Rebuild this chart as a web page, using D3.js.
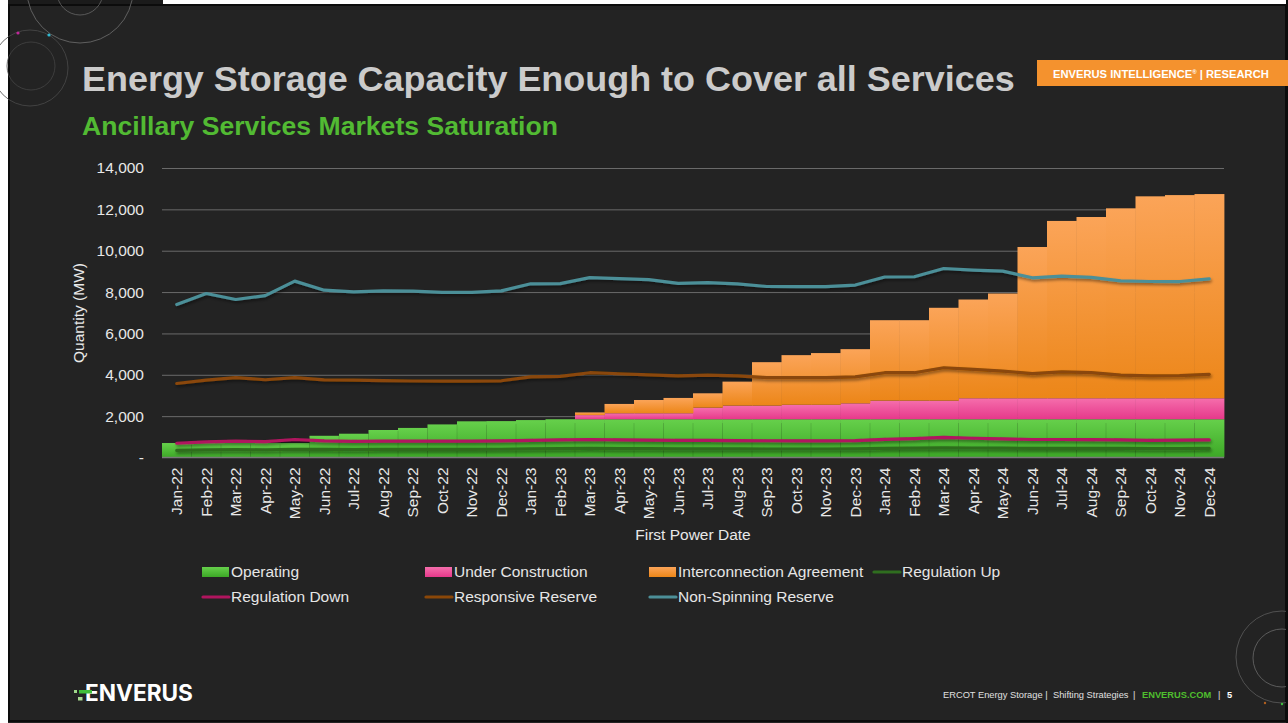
<!DOCTYPE html>
<html><head><meta charset="utf-8">
<script src="https://cdn.jsdelivr.net/npm/d3@7"></script>
<style>html,body{margin:0;padding:0;background:#fff;overflow:hidden}svg{display:block;font-family:"Liberation Sans",Arial,sans-serif}</style>
</head><body><svg id="c" width="1288" height="723"></svg>
<script>
const months = ["Jan-22","Feb-22","Mar-22","Apr-22","May-22","Jun-22","Jul-22","Aug-22","Sep-22","Oct-22","Nov-22","Dec-22",
"Jan-23","Feb-23","Mar-23","Apr-23","May-23","Jun-23","Jul-23","Aug-23","Sep-23","Oct-23","Nov-23","Dec-23",
"Jan-24","Feb-24","Mar-24","Apr-24","May-24","Jun-24","Jul-24","Aug-24","Sep-24","Oct-24","Nov-24","Dec-24"];
const operating = [700,700,700,700,700,1050,1150,1330,1430,1600,1750,1760,1810,1850,1850,1850,1850,1850,1850,1850,1850,1850,1850,1850,1850,1850,1850,1850,1850,1850,1850,1850,1850,1850,1850,1850];
const underConstruction = [0,0,0,0,0,0,0,0,0,0,0,0,0,0,200,290,290,290,560,660,660,700,700,770,900,900,900,1015,1015,1015,1015,1015,1015,1015,1015,1015];
const interconnection = [0,0,0,0,0,0,0,0,0,0,0,0,0,0,130,450,640,740,695,1160,2100,2400,2500,2620,3890,3890,4490,4775,5065,7315,8575,8765,9185,9765,9825,9875];
const regulationUp = [340,370,380,370,400,390,380,390,390,390,390,400,420,430,440,430,430,420,420,420,410,410,410,420,440,450,470,460,450,440,440,440,440,430,430,440];
const regulationDown = [690,760,790,770,870,800,780,790,790,790,790,800,830,850,870,850,840,830,830,820,810,800,800,820,880,910,970,930,900,870,870,860,850,830,840,850];
const responsiveReserve = [3580,3740,3860,3760,3860,3750,3740,3720,3700,3690,3690,3710,3900,3920,4100,4050,4000,3950,3980,3950,3860,3860,3860,3900,4100,4100,4340,4260,4180,4060,4140,4100,3985,3950,3960,4020];
const nonSpinningReserve = [7400,7930,7640,7830,8530,8090,8010,8060,8050,7990,7990,8060,8400,8410,8700,8650,8600,8420,8460,8400,8270,8260,8260,8340,8730,8740,9140,9060,9010,8690,8770,8710,8540,8510,8510,8640];
const yTicks = [0,2000,4000,6000,8000,10000,12000,14000];
const yTickLabels = ["-","2,000","4,000","6,000","8,000","10,000","12,000","14,000"];

const barSeries = [
  {key:"Operating", values:operating, top:"#66d04b", bottom:"#3ca826"},
  {key:"Under Construction", values:underConstruction, top:"#f56eac", bottom:"#e6388a"},
  {key:"Interconnection Agreement", values:interconnection, top:"#fba458", bottom:"#ec8618"}
];
const lineSeries = [
  {key:"Regulation Up", values:regulationUp, color:"#2f6d1f"},
  {key:"Regulation Down", values:regulationDown, color:"#b0155e"},
  {key:"Responsive Reserve", values:responsiveReserve, color:"#8a4708"},
  {key:"Non-Spinning Reserve", values:nonSpinningReserve, color:"#4c8f98"}
];

const svg = d3.select("#c");
const defs = svg.append("defs");
barSeries.forEach((s,i)=>{
  const g = defs.append("linearGradient").attr("id","g"+i).attr("x1",0).attr("y1",0).attr("x2",0).attr("y2",1);
  g.append("stop").attr("offset","0%").attr("stop-color",s.top);
  g.append("stop").attr("offset","100%").attr("stop-color",s.bottom);
});
const f = defs.append("filter").attr("id","sh").attr("filterUnits","userSpaceOnUse").attr("x",0).attr("y",0).attr("width",1288).attr("height",723);
f.append("feDropShadow").attr("dx",1).attr("dy",2).attr("stdDeviation",1.6).attr("flood-color","#000").attr("flood-opacity",0.45);

// slide background
svg.append("rect").attr("x",0).attr("y",0).attr("width",1288).attr("height",723).attr("fill","#ffffff");
svg.append("rect").attr("x",8).attr("y",0).attr("width",155).attr("height",5).attr("fill","#1b1b1b");
svg.append("rect").attr("x",8).attr("y",4).attr("width",1280).attr("height",719).attr("fill","#232323");
svg.append("rect").attr("x",9).attr("y",5).attr("width",1277).attr("height",716).attr("fill","none").attr("stroke","#0c0c0c").attr("stroke-width",2);

// decorative circles
const deco = svg.append("g").attr("fill","none");
deco.append("circle").attr("cx",80).attr("cy",-10).attr("r",53).attr("stroke","#6f6f6f").attr("stroke-width",0.8);
deco.append("circle").attr("cx",80).attr("cy",-8).attr("r",23).attr("stroke","#666").attr("stroke-width",0.8);
deco.append("circle").attr("cx",30).attr("cy",68).attr("r",38).attr("stroke","#4a4a4a").attr("stroke-width",0.8);
deco.append("circle").attr("cx",31).attr("cy",66).attr("r",24).attr("stroke","#444").attr("stroke-width",0.8);
deco.append("circle").attr("cx",18).attr("cy",33).attr("r",1.6).attr("fill","#c0289a");
deco.append("circle").attr("cx",49).attr("cy",35).attr("r",1.6).attr("fill","#30b8d0");
deco.append("circle").attr("cx",1282).attr("cy",657).attr("r",46).attr("stroke","#5c5c5c").attr("stroke-width",0.8);
deco.append("circle").attr("cx",1282).attr("cy",658).attr("r",29).attr("stroke","#6a6a6a").attr("stroke-width",0.8);
deco.append("circle").attr("cx",1265).attr("cy",703).attr("r",1.2).attr("fill","#b06020");
deco.append("circle").attr("cx",1282).attr("cy",704).attr("r",1.2).attr("fill","#3fbf3f");
svg.append("rect").attr("x",1286).attr("y",0).attr("width",2).attr("height",723).attr("fill","#0c0c0c");

function fit(sel, target){
  const len = sel.node().getComputedTextLength();
  const fs = parseFloat(sel.attr("font-size"));
  sel.attr("font-size", (fs*target/len).toFixed(2));
}
// titles
fit(svg.append("text").attr("x",82).attr("y",91).attr("font-size",34).attr("font-weight","bold").attr("fill","#cbcbcb")
  .text("Energy Storage Capacity Enough to Cover all Services"), 933);
fit(svg.append("text").attr("x",82).attr("y",135).attr("font-size",24).attr("font-weight","bold").attr("fill","#52ba33")
  .text("Ancillary Services Markets Saturation"), 476);
// badge
svg.append("rect").attr("x",1037).attr("y",60).attr("width",251).attr("height",26).attr("fill","#f4922e");
const bt = svg.append("text").attr("x",1053).attr("y",78).attr("font-size",11.2).attr("font-weight","bold").attr("fill","#fff");
bt.append("tspan").text("ENVERUS INTELLIGENCE");
bt.append("tspan").attr("font-size",6).attr("dy",-4).text("®");
bt.append("tspan").attr("dy",4).text(" | RESEARCH");

// chart
const x = d3.scaleBand().domain(months).range([162,1224]).padding(0);
const y = d3.scaleLinear().domain([0,14000]).range([457.5,168]);

const gy = svg.append("g").attr("transform","translate(162,0)")
  .call(d3.axisLeft(y).tickValues(yTicks).tickSize(-1062).tickPadding(18).tickFormat((d,i)=>yTickLabels[i]));
gy.select(".domain").remove();
gy.selectAll(".tick line").attr("stroke",(d)=>d===0?"none":"#6a6a6a").attr("stroke-width",1);
gy.selectAll(".tick text").attr("fill","#e8e8e8").attr("font-size",15.5).attr("font-family","Liberation Sans, Arial, sans-serif");

const stack = d3.stack().keys([0,1,2]).value((d,k)=>barSeries[k].values[d]);
const stacked = stack(d3.range(months.length));
stacked.forEach((layer,k)=>{
  svg.append("g").selectAll("rect").data(layer).join("rect")
    .attr("x",(d,i)=>x(months[i]))
    .attr("width",x.bandwidth()+0.4)
    .attr("y",d=>y(d[1]))
    .attr("height",d=>Math.max(0,y(d[0])-y(d[1])))
    .attr("fill","url(#g"+k+")");
});
// faint column separators
svg.append("g").selectAll("line").data(months.slice(1)).join("line")
  .attr("x1",d=>x(d)).attr("x2",d=>x(d))
  .attr("y1",(d)=>y(operating[months.indexOf(d)]*0.9)).attr("y2",457)
  .attr("stroke","rgba(0,0,0,0.12)").attr("stroke-width",1);

// x axis
const gx = svg.append("g").attr("transform","translate(0,457.5)").call(d3.axisBottom(x).tickSize(0).tickPadding(0));
gx.select(".domain").attr("stroke","#7a7a7a").attr("stroke-width",1.5).attr("d","M162,0H1224");
gx.selectAll(".tick text").attr("fill","#e8e8e8").attr("font-size",15.5).attr("font-family","Liberation Sans, Arial, sans-serif")
  .attr("text-anchor","end").attr("dy","0.35em").attr("transform","translate(0,10) rotate(-90)");

// lines
const line = d3.line().x((d,i)=>x(months[i])+x.bandwidth()/2).y(d=>y(d));
lineSeries.forEach(s=>{
  svg.append("path").datum(s.values).attr("d",line).attr("fill","none").attr("stroke",s.color)
    .attr("stroke-width",3.2).attr("stroke-linejoin","round").attr("stroke-linecap","round").attr("filter","url(#sh)");
});

// axis titles
svg.append("text").attr("transform","translate(84,313) rotate(-90)").attr("text-anchor","middle").attr("font-size",15.5).attr("fill","#e8e8e8").text("Quantity (MW)");
svg.append("text").attr("x",693).attr("y",540).attr("text-anchor","middle").attr("font-size",15.5).attr("fill","#e8e8e8").text("First Power Date");

// legend
const legendItems = [
  {label:"Operating", type:"bar", fill:"url(#g0)", x:202, y:572},
  {label:"Under Construction", type:"bar", fill:"url(#g1)", x:425, y:572},
  {label:"Interconnection Agreement", type:"bar", fill:"url(#g2)", x:649, y:572},
  {label:"Regulation Up", type:"line", color:lineSeries[0].color, x:873, y:572},
  {label:"Regulation Down", type:"line", color:lineSeries[1].color, x:202, y:597},
  {label:"Responsive Reserve", type:"line", color:lineSeries[2].color, x:425, y:597},
  {label:"Non-Spinning Reserve", type:"line", color:lineSeries[3].color, x:649, y:597}
];
const lg = svg.append("g").selectAll("g").data(legendItems).join("g").attr("transform",d=>`translate(${d.x},${d.y})`);
lg.filter(d=>d.type==="bar").append("rect").attr("x",0).attr("y",-5).attr("width",27).attr("height",10).attr("fill",d=>d.fill);
lg.filter(d=>d.type==="line").append("line").attr("x1",1).attr("x2",27).attr("y1",0).attr("y2",0).attr("stroke",d=>d.color).attr("stroke-width",3.2).attr("stroke-linecap","round");
lg.append("text").attr("x",29).attr("y",0).attr("dy","0.35em").attr("font-size",15.5).attr("fill","#e6e6e6").text(d=>d.label);

// footer
const ft = svg.append("g").attr("font-size",9.3).attr("fill","#e0e0e0");
ft.append("text").attr("x",943).attr("y",698).text("ERCOT Energy Storage |");
ft.append("text").attr("x",1053).attr("y",698).text("Shifting Strategies");
ft.append("text").attr("x",1133).attr("y",698).text("|");
ft.append("text").attr("x",1142).attr("y",698).attr("font-weight","bold").attr("fill","#4fbf2e").text("ENVERUS.COM");
ft.append("text").attr("x",1218).attr("y",698).text("|");
ft.append("text").attr("x",1227).attr("y",698).attr("font-weight","bold").attr("fill","#fff").text("5");

// logo
fit(svg.append("text").attr("x",85).attr("y",701).attr("font-size",20).attr("font-weight","bold").attr("fill","#ffffff").attr("font-family","Inter, Liberation Sans, sans-serif").text("ENVERUS"), 108);
svg.append("rect").attr("x",79).attr("y",690).attr("width",13).attr("height",3.5).attr("fill","#3fbf3a");
svg.append("rect").attr("x",74).attr("y",690).attr("width",3).attr("height",3).attr("fill","#9fd68a");
svg.append("rect").attr("x",78).attr("y",697).attr("width",4.5).attr("height",3.5).attr("fill","#a8d890");
</script></body></html>
